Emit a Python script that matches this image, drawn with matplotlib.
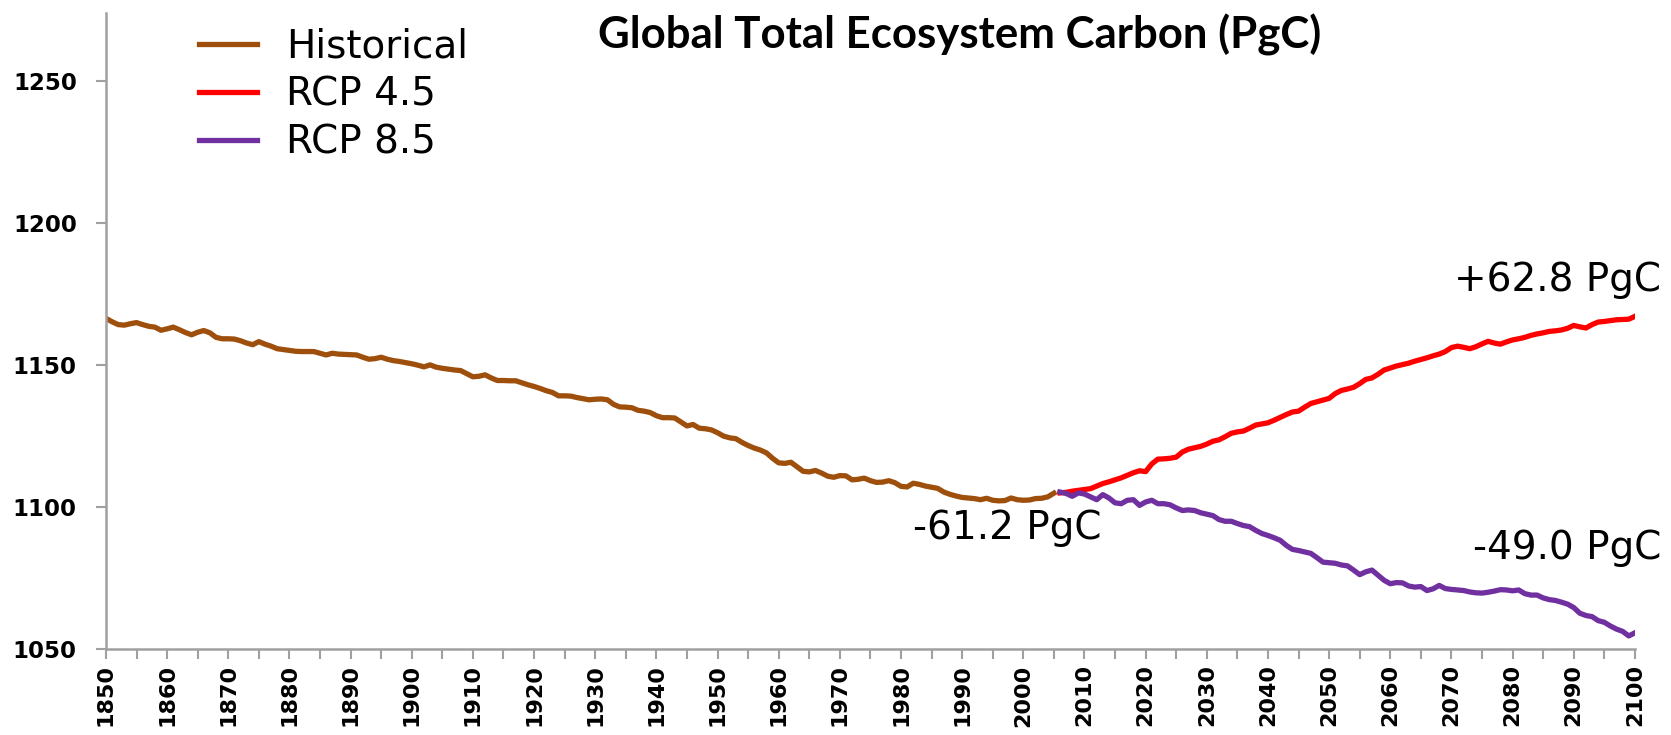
import matplotlib
matplotlib.use("Agg")
import matplotlib.pyplot as plt
import numpy as np

# values (PgC)
hist_years = np.arange(1850, 2006)
hist_vals = [
    1166.5, 1165.3, 1164.3, 1164.1, 1164.6, 1165.0, 1164.3, 1163.7, 1163.4, 1162.3,
    1162.8, 1163.4, 1162.5, 1161.5, 1160.7, 1161.6, 1162.2, 1161.4, 1159.8, 1159.3,
    1159.3, 1159.2, 1158.6, 1157.8, 1157.2, 1158.3, 1157.4, 1156.7, 1155.8, 1155.5,
    1155.2, 1154.9, 1154.8, 1154.8, 1154.8, 1154.2, 1153.6, 1154.2, 1153.9, 1153.8,
    1153.7, 1153.6, 1152.8, 1152.1, 1152.3, 1152.8, 1152.1, 1151.6, 1151.3, 1150.9,
    1150.5, 1150.0, 1149.4, 1150.1, 1149.3, 1148.9, 1148.6, 1148.3, 1148.1, 1147.0,
    1145.9, 1146.1, 1146.6, 1145.5, 1144.6, 1144.6, 1144.5, 1144.5, 1143.8, 1143.1,
    1142.5, 1141.8, 1141.0, 1140.4, 1139.2, 1139.2, 1139.1, 1138.6, 1138.2, 1137.8,
    1138.0, 1138.1, 1137.8, 1136.2, 1135.3, 1135.2, 1135.0, 1134.1, 1133.8, 1133.3,
    1132.2, 1131.5, 1131.5, 1131.4, 1130.0, 1128.6, 1129.1, 1127.8, 1127.6, 1127.2,
    1126.2, 1125.0, 1124.4, 1124.1, 1122.8, 1121.7, 1120.8, 1120.1, 1119.1, 1117.2,
    1115.6, 1115.4, 1115.8, 1114.2, 1112.6, 1112.4, 1112.9, 1112.0, 1110.9, 1110.5,
    1111.1, 1111.0, 1109.6, 1109.8, 1110.2, 1109.3, 1108.7, 1108.8, 1109.3, 1108.6,
    1107.3, 1107.1, 1108.4, 1108.0, 1107.4, 1107.0, 1106.6, 1105.3, 1104.5, 1103.9,
    1103.4, 1103.2, 1103.0, 1102.6, 1103.1, 1102.4, 1102.2, 1102.3, 1103.2, 1102.6,
    1102.4, 1102.5, 1103.0, 1103.1, 1103.6, 1104.9,
]

rcp_years = np.arange(2006, 2101)
rcp45_vals = [
    1105.0, 1105.2, 1105.6, 1105.9, 1106.2, 1106.5, 1107.4, 1108.3, 1108.9, 1109.6,
    1110.3, 1111.2, 1112.1, 1112.8, 1112.5, 1115.2, 1116.9, 1117.0, 1117.2, 1117.6,
    1119.4, 1120.4, 1120.9, 1121.4, 1122.2, 1123.2, 1123.7, 1124.8, 1126.0, 1126.5,
    1126.8, 1127.8, 1128.9, 1129.3, 1129.7, 1130.6, 1131.6, 1132.6, 1133.5, 1133.8,
    1135.2, 1136.5, 1137.1, 1137.7, 1138.3, 1140.0, 1141.1, 1141.6, 1142.2, 1143.5,
    1145.0, 1145.5, 1146.8, 1148.3, 1149.0, 1149.7, 1150.2, 1150.7, 1151.4, 1152.0,
    1152.6, 1153.3, 1153.9, 1154.8, 1156.2, 1156.7, 1156.3, 1155.8, 1156.5, 1157.5,
    1158.4, 1157.8, 1157.4, 1158.2, 1158.9, 1159.3, 1159.8, 1160.5, 1161.0, 1161.4,
    1161.9, 1162.1, 1162.4, 1163.0, 1164.0, 1163.5, 1163.1, 1164.3, 1165.2, 1165.4,
    1165.7, 1166.0, 1166.1, 1166.2, 1167.2,
]
rcp85_vals = [
    1105.3, 1104.8, 1103.8, 1105.0, 1104.6, 1103.6, 1102.6, 1104.4, 1103.2, 1101.5,
    1101.2, 1102.4, 1102.6, 1100.6, 1101.8, 1102.4, 1101.2, 1101.2, 1100.8, 1099.7,
    1098.8, 1099.0, 1098.8, 1098.0, 1097.5, 1097.0, 1095.6, 1095.0, 1095.0, 1094.2,
    1093.5, 1093.1, 1091.8, 1090.7, 1090.0, 1089.2, 1088.3, 1086.5, 1085.1, 1084.7,
    1084.2, 1083.7, 1082.2, 1080.6, 1080.4, 1080.2, 1079.6, 1079.3, 1077.8, 1076.2,
    1077.2, 1077.8, 1076.0, 1074.2, 1073.0, 1073.4, 1073.3, 1072.2, 1071.8, 1072.0,
    1070.6, 1071.2, 1072.4, 1071.3, 1071.0, 1070.8, 1070.6, 1070.1, 1069.8, 1069.7,
    1070.0, 1070.4, 1070.9, 1070.8, 1070.5, 1070.8, 1069.5, 1069.0, 1069.0, 1068.0,
    1067.4, 1067.1, 1066.5, 1065.8, 1064.6, 1062.6, 1061.8, 1061.4, 1060.0, 1059.4,
    1058.1, 1057.0, 1056.2, 1054.6, 1055.7,
]

labels = ['Historical', 'RCP 4.5', 'RCP 8.5']
colors = ['#9E4F0C', '#FF0000', '#7030A0']
changes = ['-61.2 PgC', '+62.8 PgC', '-49.0 PgC']

fig = plt.figure(figsize=(16.71, 7.35), dpi=100)
ax = fig.add_axes([0.0634, 0.117, 0.915, 0.865])

ax.plot(hist_years, hist_vals, color=colors[0], lw=3.8, label=labels[0])
ax.plot(rcp_years, rcp45_vals, color=colors[1], lw=3.8, label=labels[1])
ax.plot(rcp_years, rcp85_vals, color=colors[2], lw=3.8, label=labels[2])

ax.set_xlim(1850, 2100)
ax.set_ylim(1050, 1274)

ticks = np.arange(1850, 2101, 5)
ax.set_xticks(ticks)
ax.set_xticklabels([str(t) if t % 10 == 0 else '' for t in ticks],
                   rotation=90, fontsize=16, fontweight='bold')
ax.set_yticks([1050, 1100, 1150, 1200, 1250])
ax.set_yticklabels(['1050', '1100', '1150', '1200', '1250'],
                   fontsize=16.5, fontweight='bold')
ax.tick_params(axis='both', direction='out', length=7, width=1.5, color='#A0A0A0')
ax.tick_params(axis='y', pad=14)
ax.tick_params(axis='x', pad=4)

for s in ['top', 'right']:
    ax.spines[s].set_visible(False)
for s in ['left', 'bottom']:
    ax.spines[s].set_color('#A0A0A0')
    ax.spines[s].set_linewidth(1.8)

ax.text(1982.0, 1092.5, changes[0], fontsize=28, ha='left', va='center')
ax.text(2104.3, 1180.0, changes[1], fontsize=28, ha='right', va='center')
ax.text(2104.3, 1085.6, changes[2], fontsize=28, ha='right', va='center')

ax.legend(loc='upper left', bbox_to_anchor=(0.119, 0.962), bbox_transform=fig.transFigure,
          frameon=False, fontsize=28, handlelength=1.5, handletextpad=0.75,
          labelspacing=0.25, borderpad=0, borderaxespad=0)

fig.text(0.5745, 0.952, 'Global Total Ecosystem Carbon (PgC)', fontsize=31.5,
         fontweight='bold', family=['Lato', 'DejaVu Sans'], ha='center', va='center')

plt.savefig('out.png', dpi=100)
